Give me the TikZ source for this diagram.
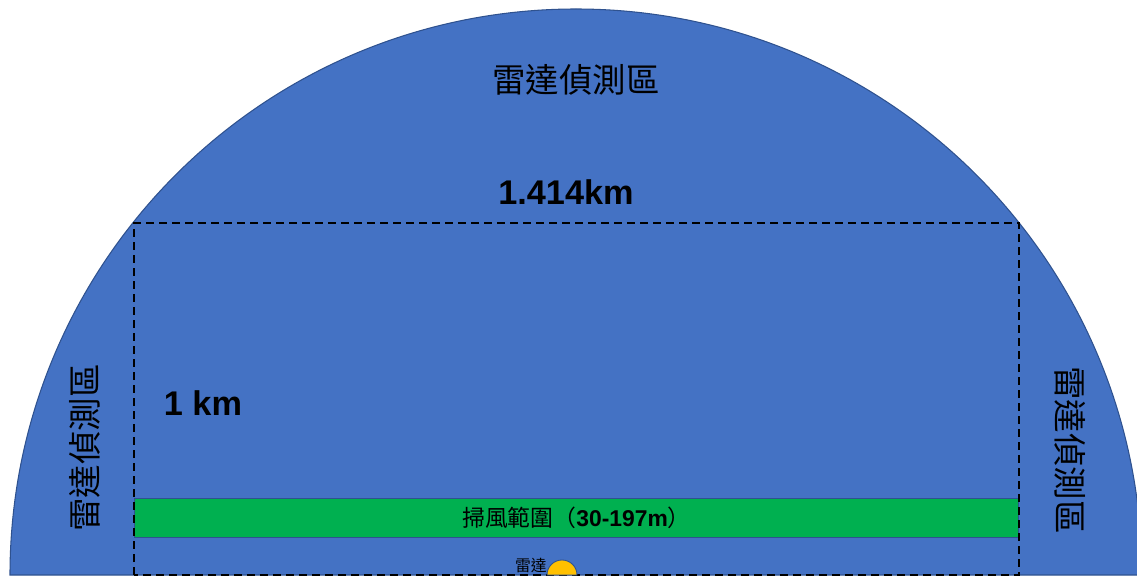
\documentclass[tikz,border=0pt]{standalone}
\usepackage{fontspec}
\setmainfont{Liberation Sans}
\newfontfamily\cjk{Noto Sans CJK TC}
\usetikzlibrary{positioning}
\definecolor{skyblue}{HTML}{4472C4}
\definecolor{edgeblue}{HTML}{2F528F}
\definecolor{sweepgreen}{HTML}{00B050}
\definecolor{radaryellow}{HTML}{FFC000}
\tikzset{
  zone/.style={
    fill=skyblue,
    draw=edgeblue,
    line width=0.6pt
  },
  guide/.style={
    draw=black,
    line width=1.2pt,
    dash pattern=on 4.6pt off 2.8pt
  },
  sweepbar/.style={
    draw=edgeblue,
    fill=sweepgreen,
    line width=0.5pt,
    minimum width=17.7cm,
    minimum height=0.78cm,
    inner sep=0pt
  },
  zonelabel/.style={
    font=\cjk\fontsize{19}{22}\selectfont,
    inner sep=0pt
  },
  sizelabel/.style={
    font=\bfseries\fontsize{19.5}{22}\selectfont,
    inner sep=0pt
  }
}
\begin{document}
\begin{tikzpicture}[x=0.02cm,y=0.02cm]
  \useasboundingbox (0,0) rectangle (1137,579);
  % detection zone
  \draw[zone] (1142,4) arc[start angle=0,end angle=180,radius=566] -- cycle;
  % sweep band
  \node[sweepbar] (sweep) at (576.5,61.5) {%
    {\cjk\fontsize{13}{15}\selectfont 掃風範圍（}%
    {\bfseries\fontsize{13}{15}\selectfont 30-197m}%
    {\cjk\fontsize{13}{15}\selectfont ）}%
  };
  % 1 km x 1.414 km box
  \coordinate (boxsw) at (134,4);
  \coordinate (boxne) at (1019,356);
  \draw[guide] (boxsw) rectangle (boxne);
  % radar
  \coordinate (radar) at (562,4);
  \coordinate (radarend) at (577,4);
  \draw[fill=radaryellow,draw=edgeblue,line width=0.5pt]
    (radarend) arc[start angle=0,end angle=180,radius=15] -- cycle;
  \node[font=\cjk\fontsize{9}{10}\selectfont,inner sep=0pt,anchor=south east]
    (radarname) at (547,6) {雷達};
  % labels
  \node[zonelabel] (zonetop) at (576,499) {雷達偵測區};
  \node[zonelabel,rotate=90] (zoneleft) at (85,131) {雷達偵測區};
  \node[zonelabel,rotate=-90] (zoneright) at (1070,129) {雷達偵測區};
  \node[sizelabel] (width) at (566,387) {1.414km};
  \node[sizelabel] (height) at (203,176) {1 km};
\end{tikzpicture}
\end{document}
